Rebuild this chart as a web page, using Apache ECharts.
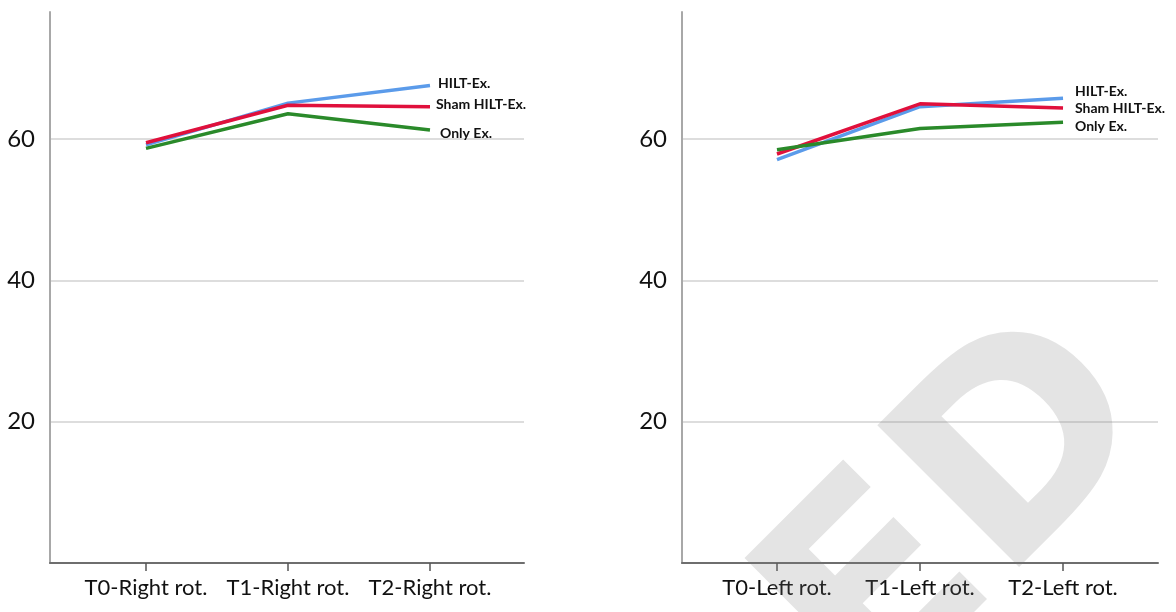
<!DOCTYPE html>
<html>
<head>
<meta charset="utf-8">
<script src="https://cdn.jsdelivr.net/npm/echarts@6/dist/echarts.min.js"></script>
<style>
  html, body { margin: 0; padding: 0; background: #fff; }
  #chart { width: 1176px; height: 612px; }
</style>
</head>
<body>
<div id="chart"></div>
<script>
// categories
var catRight = ["T0-Right rot.", "T1-Right rot.", "T2-Right rot."];
var catLeft = ["T0-Left rot.", "T1-Left rot.", "T2-Left rot."];
var yTicks = [20, 40, 60];

// right rotation (left panel)
var hiltRight = [59.2, 65.1, 67.6];
var shamRight = [59.5, 64.8, 64.6];
var onlyRight = [58.7, 63.6, 61.3];

// left rotation (right panel)
var hiltLeft = [57.1, 64.6, 65.8];
var shamLeft = [57.9, 65.0, 64.4];
var onlyLeft = [58.5, 61.5, 62.4];

var names = ["HILT-Ex.", "Sham HILT-Ex.", "Only Ex."];
var colors = ["#5b9bea", "#e0103c", "#2a8a2a"];

function pts(arr) {
  return arr.map(function (v, i) { return [i, v]; });
}

function xAxis(idx, cats, min, max) {
  return {
    type: "value",
    gridIndex: idx,
    min: min,
    max: max,
    axisLine: { show: true, onZero: false, lineStyle: { color: "#6e6e6e", width: 2 } },
    axisTick: { show: true, length: 8, customValues: [0, 1, 2], lineStyle: { color: "#555", width: 1.5 } },
    axisLabel: {
      customValues: [0, 1, 2],
      formatter: function (v) { return cats[Math.round(v)]; },
      fontFamily: "Lato", fontSize: 22, color: "#111", margin: 14
    },
    splitLine: { show: false }
  };
}

function yAxis(idx) {
  return {
    type: "value",
    gridIndex: idx,
    min: 0,
    max: 78,
    interval: 20,
    axisLine: { show: true, onZero: false, lineStyle: { color: "#a8a8a8", width: 2 } },
    axisTick: { show: false },
    axisLabel: {
      formatter: function (v) { return yTicks.indexOf(v) >= 0 ? v : ""; },
      fontFamily: "Lato", fontSize: 24, color: "#111", margin: 15
    },
    splitLine: { show: true, showMaxLine: false, lineStyle: { color: "#d2d2d2", width: 1.5 } }
  };
}

function line(idx, k, data, off) {
  return {
    type: "line",
    name: names[k],
    xAxisIndex: idx,
    yAxisIndex: idx,
    data: pts(data),
    symbol: "none",
    lineStyle: { color: colors[k], width: 3.5 },
    itemStyle: { color: colors[k] },
    endLabel: {
      show: true,
      formatter: "{a}",
      fontFamily: "Lato", fontWeight: "bold", fontSize: 14, color: "#111",
      offset: off
    },
    animation: false
  };
}

var option = {
  animation: false,
  grid: [
    { left: 50, right: 652, top: 12, bottom: 49 },
    { left: 682, right: 18, top: 12, bottom: 49 }
  ],
  xAxis: [
    xAxis(0, catRight, -0.676, 2.662),
    xAxis(1, catLeft, -0.664, 2.664)
  ],
  yAxis: [yAxis(0), yAxis(1)],
  series: [
    line(0, 0, hiltRight, [0, -2]),
    line(0, 1, shamRight, [-2, -2]),
    line(0, 2, onlyRight, [2, 4]),
    line(1, 0, hiltLeft, [4, -7]),
    line(1, 1, shamLeft, [4, 0]),
    line(1, 2, onlyLeft, [4, 4])
  ],
  // watermark
  graphic: [{
    type: "text",
    x: 965,
    y: 520,
    rotation: Math.PI / 4,
    z: 100,
    silent: true,
    style: {
      text: "ED",
      fontFamily: "DejaVu Sans",
      fontWeight: "bold",
      fontSize: 275,
      fill: "rgba(120,120,120,0.2)",
      align: "center",
      verticalAlign: "middle"
    }
  }]
};

var myChart = echarts.init(document.getElementById("chart"));
myChart.setOption(option);
</script>
</body>
</html>
